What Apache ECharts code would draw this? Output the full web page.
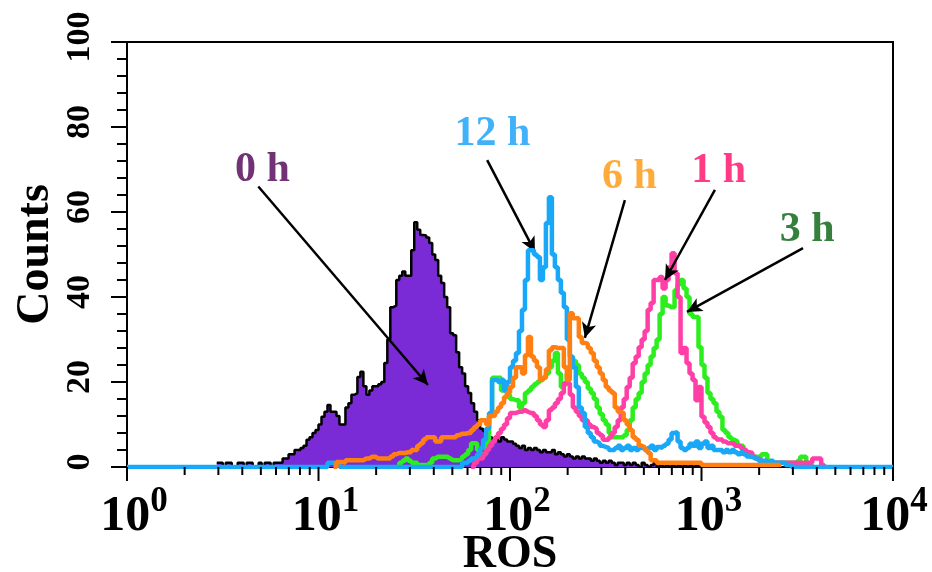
<!DOCTYPE html>
<html>
<head>
<meta charset="utf-8">
<title>ROS histogram</title>
<script src="https://cdn.jsdelivr.net/npm/echarts@6/dist/echarts.min.js"></script>
<style>
  html, body { margin: 0; padding: 0; background: #fff; }
  #chart { width: 932px; height: 572px; }
</style>
</head>
<body>
<div id="chart"></div>
<script>
// Flow cytometry histograms: 256 log channels over four decades (64 per decade).
const CHANNELS_PER_DECADE = 64;
const TOTAL_CHANNELS = 256;

// 0 h (filled), counts from channel h0Start onward
const h0Start = 30;
const h0Counts = [
  1,1,0,1,1,0,0,1,1,0,1,1,0,0,1,0,1,1,0,1,1,1,2,
  2,3,3,4,4,4.5,5,
  6.4,7,8,8.7,10,11.8,13,14.6,13,13,
  12,10,10,14,15,17,17.4,21.2,22.4,19,
  17,18,19,19,19.5,20,24.5,30,37.6,38,
  44,45,46,45,45,51,57.6,55.8,54.6,54.5,
  54,52.7,50,48.7,45,43.3,40,37.6,31.5,31,
  27,23.5,22,19,17.4,15,13,11,9,8.5,
  8,7,6.5,7,6,7,6.5,6,6,5.5,
  5,4.5,5,4,4.5,4,4.5,4,3.5,4,
  3.5,3.5,4,3,3.5,3,2.5,3,2.5,2,
  2.5,2,2.5,2,2,1.5,2,1.5,1,1.5,
  1,1.5,1,0.5,1,1,0.5,1,0.5,1,
  0.5,0,1,0.5,0,0.5,1,0,0.5,0,
  0.5,0,0.5,0,0.5,0,0.5,0,0.5,0,0.5,0
];

// 12 h
const h12Start = 60;
const h12Counts = [
  0,0,0,0,0,0,0,
  1,1,1,1,
  0,0,0,0,0,0,0,0,0,0,0,0,0,0,0,0,0,0,0,0,0,0,0,0,0,0,0,0,0,0,0,0,0,0,0,0,0,0,0,0,0,
  1,1,1.5,2,2.4,3,4.5,6.4,
  9,12.7,20.5,20.5,20,20.5,18,20,23.5,25,
  26.8,32,37,44,51,51,50,49.4,44,47,
  57.4,63.5,50,47,44,41,37.6,30,26,23.5,
  18.8,14,12.7,9.4,8,7,6,5.6,5,4.7,
  4.5,4,4,4.5,5,4,4.5,5,4,4.5,
  4,5,4.5,4,4.5,5,4,4.7,4.5,5,
  5.5,6.5,8,8.2,6,4.5,4,4.5,5.5,5,
  6,4.5,5.5,6,4.5,5,4,4,4,3.5,
  4,3.5,4,3.5,3,3.5,3,2.5,2.4,2,
  2,1.5,1.5,1.5,1,1.5,1,1,1,1,
  0.5,0.5,0
];

// 6 h
const h6Start = 69;
const h6Counts = [
  0,1.2,1.2,1,1.6,1.6,1.6,1.6,1.6,1.6,2,
  2,2.4,2.4,2,2,2,2,2,2.5,3,
  3.3,3.3,3.3,3.5,3.5,4,4,5,5.6,6.5,
  7,7,7,6,6,7,7,7,7,7,
  7.5,7.8,7.8,8,8,8.7,9.4,10,11,11,
  10,12,12,13,14,15,16.5,17.5,18.8,21,
  23.5,23.5,22,26.3,30.6,26,25,23.5,20.5,21,
  23,27.5,28.2,28,28,28,23.5,20.5,36.2,35,
  35,30.6,29.2,29,28,26.8,25,23.5,22,20.5,
  18.8,18,17.4,14,13,12.7,11,10,8.7,7,
  6.4,5,4.7,4,3.3,1.6,1.6,1,1,1,
  1,1,1,1,1,1,1,1,1,1,1,1,
  0.5,0.5,0.5,0.5,0.5,0.5,0.5,0.5,0.5,0.5,0.5,0.5,0.5,
  0.5,0.5,0.5,0.5,0.5,0.5,0.5,0.5,0.5,0.5,0.5,0.5,0.5,
  0
];

// 3 h
const h3Start = 90;
const h3Counts = [
  0,1,1.5,2,1.5,1,1,0.5,0.5,0.5,
  0.5,1,2,2.4,2.4,2.4,2.4,2,1.6,1.6,
  1.6,2,2.5,3,4,5.6,5.6,4,3,3,
  6,12,21,21,21,18,18,17,16,15.7,
  15.7,14,15,17.4,18,18.8,19.5,20,20.5,21,
  22,23.5,25,26.8,22,18.8,19.5,22,23.5,25,
  24,22,21,20,18.5,17.4,16,14,12.5,11,
  10,8,7,7,7,7,7.5,8.7,11,14,
  16,17.4,20,22,24,26,28,30,36,40,
  38,37.6,37.6,41.6,43,44,42,40,36,35.3,
  35.3,28.2,24,21,17.4,16,15,13,11.8,8.7,
  8,7,6.4,6,5,5,4,3,2.4,2.4,
  2.4,2.4,3,3,1.5,1,1,1,1,1,
  1,1,1,1,1.5,2.4,2.4,1,0.5,0
];

// 1 h
const h1Start = 115;
const h1Counts = [
  0,1,2,2,3,
  4,5,6,7,8,9,10,11.5,12.7,12.7,
  13,13,13.4,13,12.7,12.7,12,11,10,9.4,
  11,13.4,14,15,16,17.4,19.7,19.7,17,14,
  13,12,11,11,10,9.4,9,8,7.5,6.4,
  6.4,7,8,9.4,11,14,16,18.8,21,24.4,
  26,28.2,30,32,37,38.6,44,44,44.7,42,
  44,47,50.3,45.6,40,26.8,28,24.4,22,20.5,
  15.7,18.8,11.8,10.5,9.4,8,7,6.5,6.5,6,
  5.6,5.6,5.6,5,5,4.5,4,3.5,3.3,2.5,
  2,1.6,1,1,1,1,1,1,1,1,
  1,1,1,1,1,1,1,1,1,2,
  2,2,0.5,0
];

// Axis tick values
const majorTicksX = [1, 10, 100, 1000, 10000];
const minorTicksX = [2,3,4,5,6,7,8,9, 20,30,40,50,60,70,80,90,
  200,300,400,500,600,700,800,900, 2000,3000,4000,5000,6000,7000,8000,9000];

// Annotation labels and arrows (data coordinates)
const annotNames = ['0 h', '12 h', '6 h', '1 h', '3 h'];
const annotColors = ['#4e0052', '#129ff7', '#ff960a', '#ff0a66', '#02600c'];
const annotLabelX = [5.1, 81, 420, 1230, 3560];
const annotLabelY = [69.8, 78.3, 68.2, 69.6, 55.7];
const arrowFromX = [4.85, 76, 398, 1175, 3390];
const arrowFromY = [66, 72.2, 62.8, 65.2, 51.5];
const arrowToX = [37.3, 135, 246, 645, 840];
const arrowToY = [19.3, 50.6, 30.4, 44, 36.5];

const serif = '"Liberation Serif", "Times New Roman", serif';

function channelPoints(start, counts, fullRange) {
  const pts = [];
  if (fullRange) {
    for (let c = 0; c < start; c++) pts.push([Math.pow(10, c / CHANNELS_PER_DECADE), 0]);
  }
  counts.forEach((v, i) => {
    pts.push([Math.pow(10, (start + i) / CHANNELS_PER_DECADE), v]);
  });
  if (fullRange) {
    for (let c = start + counts.length; c <= TOTAL_CHANNELS; c++) {
      pts.push([Math.pow(10, c / CHANNELS_PER_DECADE), 0]);
    }
  }
  return pts;
}

function histLine(name, color, start, counts, z, fullRange) {
  return {
    name: name,
    type: 'line',
    step: 'end',
    showSymbol: false,
    symbol: 'none',
    z: z,
    xAxisIndex: 0,
    lineStyle: { color: color, width: 4.5 },
    data: channelPoints(start, counts, fullRange)
  };
}

// Log-axis tick marks hanging below the x axis line
function tickSeries(values, len) {
  return {
    type: 'custom',
    z: 8,
    silent: true,
    clip: false,
    xAxisIndex: 0,
    encode: { x: 0, y: 1 },
    data: values.map(function (v) { return [v, 0]; }),
    renderItem: function (params, api) {
      const p = api.coord([api.value(0), 0]);
      return {
        type: 'line',
        shape: { x1: p[0], y1: p[1], x2: p[0], y2: p[1] + len },
        style: { stroke: '#000', lineWidth: 2 }
      };
    }
  };
}

const chart = echarts.init(document.getElementById('chart'), null, { renderer: 'canvas' });

const option = {
  animation: false,
  backgroundColor: '#ffffff',
  grid: {
    left: 127, right: 39, top: 42, bottom: 105,
    outerBoundsMode: 'none',
    containLabel: false,
    show: true, borderColor: '#000', borderWidth: 2, backgroundColor: 'transparent'
  },
  xAxis: {
    type: 'log', logBase: 10, min: 1, max: 10000, position: 'bottom',
    axisLine: { show: true, onZero: false, lineStyle: { color: '#000', width: 2 } },
    axisTick: { show: false },
    minorTick: { show: false },
    splitLine: { show: false },
    axisLabel: {
      customValues: majorTicksX,
      margin: 17,
      formatter: function (v) {
        const e = Math.round(Math.log10(v));
        // the last label sits against the right edge, so it gets a narrower lead spacer
        return (e === 4 ? '{sq|}' : '{sp|}') + '{b|10}{e|' + e + '}';
      },
      rich: {
        sp: { width: 14, height: 58 },
        sq: { width: 2, height: 58 },
        b: { fontFamily: serif, fontWeight: 'bold', fontSize: 50, color: '#000', lineHeight: 50, verticalAlign: 'bottom' },
        e: { fontFamily: serif, fontWeight: 'bold', fontSize: 35, color: '#000', lineHeight: 35, verticalAlign: 'top' }
      }
    },
    name: 'ROS', nameLocation: 'middle', nameGap: 65, nameMoveOverlap: false,
    nameTextStyle: { fontFamily: serif, fontWeight: 'bold', fontSize: 46, color: '#000' }
  },
  yAxis: {
    type: 'value', min: 0, max: 100, interval: 20,
    axisLine: { show: true, lineStyle: { color: '#000', width: 2 } },
    axisTick: { show: true, length: 16, lineStyle: { color: '#000', width: 2 } },
    minorTick: { show: true, splitNumber: 5, length: 10, lineStyle: { color: '#000', width: 2 } },
    splitLine: { show: false },
    minorSplitLine: { show: false },
    axisLabel: {
      rotate: 90, margin: 30,
      fontFamily: serif, fontWeight: 'bold', fontSize: 34, color: '#000',
      padding: [0, 0, 0, 10]
    },
    name: 'Counts', nameLocation: 'middle', nameRotate: 90, nameGap: 68, nameMoveOverlap: false,
    nameTextStyle: { fontFamily: serif, fontWeight: 'bold', fontSize: 46, color: '#000' }
  },
  series: [
    {
      name: '0 h',
      type: 'line',
      step: 'end',
      symbol: 'none',
      z: 2,
      xAxisIndex: 0,
      lineStyle: { color: '#000', width: 2.5 },
      areaStyle: { color: '#7a2bd6', opacity: 1 },
      data: channelPoints(h0Start, h0Counts, false)
    },
    histLine('3 h', '#2cee1e', h3Start, h3Counts, 3, false),
    histLine('1 h', '#ff3ea6', h1Start, h1Counts, 4, false),
    histLine('12 h', '#18a8f7', h12Start, h12Counts, 5, true),
    histLine('6 h', '#ff7f12', h6Start, h6Counts, 6, false),
    tickSeries(majorTicksX, 14),
    tickSeries(minorTicksX, 8),
    {
      name: 'labels',
      type: 'scatter',
      z: 10,
      xAxisIndex: 0,
      symbolSize: 1,
      itemStyle: { color: 'rgba(0,0,0,0)' },
      label: {
        show: true, position: 'inside',
        fontFamily: serif, fontWeight: 'bold', fontSize: 42,
        formatter: function (p) { return p.name; }
      },
      data: annotNames.map(function (n, i) {
        return { name: n, value: [annotLabelX[i], annotLabelY[i]], label: { color: annotColors[i] } };
      }),
      markLine: {
        silent: true,
        symbol: ['none', 'arrow'],
        symbolSize: [11, 15],
        label: { show: false },
        lineStyle: { color: '#000', width: 2.5, type: 'solid' },
        data: annotNames.map(function (n, i) {
          return [
            { coord: [arrowFromX[i], arrowFromY[i]] },
            { coord: [arrowToX[i], arrowToY[i]] }
          ];
        })
      }
    }
  ]
};

chart.setOption(option);
</script>
</body>
</html>
